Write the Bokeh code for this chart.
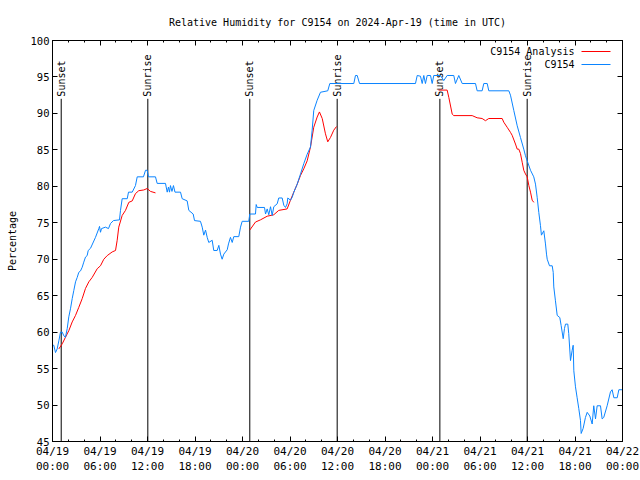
import math
from bokeh.plotting import figure
from bokeh.models import (FixedTicker, LinearAxis, Range1d, Label, BoxAnnotation,
                          ColumnDataSource, CustomLabelingPolicy)
from bokeh.core.properties import value
from bokeh.embed import file_html
from bokeh.resources import INLINE

FONT = "DejaVu Sans Mono"
NAN = float("nan")

# ---- data (hours after 2024-04-19 00:00 UTC) ----
obs_hours = [0.00, 0.16, 0.38, 0.59, 0.80, 1.01, 1.23, 1.43, 1.64, 1.86, 2.06, 2.27, 2.49, 2.69,
             2.91, 3.12, 3.32, 3.54, 3.75, 3.95, 4.17, 4.38, 4.51, 4.80, 5.43, 5.85, 5.94, 6.06,
             6.19, 6.69, 7.07, 7.33, 7.70, 8.46, 8.59, 8.80, 9.44, 9.60, 10.07, 10.48, 10.70,
             11.49, 11.75, 11.96, 12.13, 13.01, 13.22, 14.27, 14.49, 14.65, 14.78, 14.90, 15.09,
             15.28, 15.47, 16.17, 16.38, 17.01, 17.22, 17.77, 17.94, 18.69, 18.91, 19.11, 19.33,
             19.54, 19.74, 20.17, 20.37, 20.80, 21.01, 21.22, 21.43, 21.64, 22.07, 22.23, 22.48,
             22.70, 22.90, 23.53, 23.75, 23.96, 24.79, 24.92, 25.64, 25.73, 25.86, 26.78, 26.91,
             27.12, 27.32, 27.54, 27.75, 27.95, 28.38, 28.58, 29.01, 29.22, 29.43, 29.64, 29.72,
             30.06, 30.28, 30.48, 30.91, 31.33, 31.74, 32.17, 32.59, 32.80, 33.00, 33.43, 33.85,
             34.77, 35.03, 38.06, 38.27, 38.49, 38.78, 45.85, 46.07, 46.48, 46.70, 46.90, 47.11,
             47.33, 47.75, 47.96, 48.16, 49.01, 49.42, 49.85, 50.69, 50.90, 51.32, 51.75, 53.43,
             53.64, 54.27, 54.48, 54.91, 55.11, 57.64, 57.85, 58.27, 58.70, 59.11, 59.53, 59.74,
             59.96, 60.38, 60.79, 61.01, 61.22, 61.43, 61.64, 61.76, 62.06, 62.27, 62.40, 62.49,
             62.78, 63.12, 63.25, 63.32, 63.53, 63.75, 64.08, 64.25, 64.51, 64.67, 64.80, 65.09,
             65.21, 65.43, 65.64, 65.77, 65.85, 66.06, 66.27, 66.48, 66.69, 66.78, 67.03, 67.32,
             67.54, 67.87, 68.17, 68.37, 68.59, 68.80, 69.22, 69.43, 69.63, 70.06, 70.48, 70.69,
             70.91, 71.33, 71.54, 72.00]
obs_rh = [58.2, 58.2, 57.2, 57.7, 58.8, 60.0, 60.0, 59.5, 59.3, 60.5, 62.1, 63.2, 64.6, 65.7,
          66.9, 67.5, 68.2, 68.4, 68.9, 69.6, 70.3, 70.5, 71.2, 71.5, 73.0, 74.2, 74.5, 73.7,
          74.2, 74.4, 74.2, 74.9, 75.3, 75.4, 76.7, 78.3, 78.3, 79.2, 79.2, 80.1, 81.3,
          81.3, 82.2, 82.2, 81.3, 81.3, 80.4, 80.4, 79.2, 79.9, 79.2, 80.1, 79.3,
          80.1, 79.2, 79.2, 78.3, 78.0, 76.7, 76.2, 75.3, 75.2, 74.4, 73.3, 74.0,
          73.0, 72.3, 72.6, 71.2, 71.2, 71.9, 70.7, 70.0, 70.7, 71.3, 72.1, 73.0,
          72.3, 73.1, 73.1, 74.4, 75.2, 75.2, 76.2, 76.2, 77.5, 77.1, 77.1, 76.2,
          76.9, 76.1, 77.2, 76.0, 77.2, 77.6, 78.4, 78.4, 77.4, 77.1, 77.6, 78.4,
          78.1, 78.5, 79.2, 80.3, 81.7, 83.1, 84.4, 85.4, 87.7, 90.4, 91.8, 92.9,
          93.1, 94.1, 94.1, 95.2, 95.2, 94.1, 94.1, 95.2, 95.1, 94.1, 95.2, 94.1,
          95.2, 95.2, 94.1, 95.2, 95.2, 94.5, 95.2, 95.2, 94.1, 95.2, 94.1, 94.1,
          93.1, 93.1, 94.1, 94.1, 93.1, 93.1, 92.5, 90.4, 88.3, 86.7, 85.1, 84.2,
          83.5, 82.2, 81.3, 80.3, 78.5, 76.4, 74.6, 73.3, 73.9, 72.1, 70.7, 70.0,
          69.1, 69.1, 68.2, 66.2, 64.3, 62.3, 62.0, 60.9, 59.1, 60.5, 61.1, 61.1,
          59.8, 56.1, 57.5, 58.2, 54.7, 52.5, 51.0, 49.5, 47.9, 46.1, 46.8, 48.3,
          49.0, 48.5, 47.4, 49.9, 48.1, 49.9, 49.9, 48.1, 48.3, 49.9, 51.8, 52.1,
          51.0, 51.0, 52.1, 52.1]

ana_hours = [0.80, 1.23, 1.64, 2.06, 2.49, 2.91, 3.32, 3.75, 4.17, 4.59, 5.01, 5.65, 6.06, 6.48,
             6.91, 7.54, 7.96, 8.17, 8.37, 8.80, 9.22, 9.64, 10.07, 10.48, 10.90, 11.53, 11.96,
             12.38, 13.01, 18.0,
             24.92, 25.64, 26.27, 27.12, 27.95, 28.58, 29.64, 30.06, 30.48, 30.91, 31.33, 31.74,
             32.17, 32.59, 33.00, 33.43, 33.72, 34.07, 34.48, 34.77, 35.11, 35.53, 35.87, 42.0,
             48.76, 49.85, 50.06, 50.49, 50.69, 53.01, 53.64, 54.27, 54.69, 55.11, 56.80, 57.00,
             57.43, 57.85, 58.06, 58.48, 58.70, 58.90, 59.11, 59.33, 59.53, 59.74, 59.96, 60.17,
             60.38, 60.59, 60.80]
ana_rh = [57.7, 58.4, 59.3, 60.2, 61.4, 62.3, 63.4, 64.6, 66.0, 66.9, 67.5, 68.7, 69.1, 70.0,
          70.5, 71.0, 71.2, 72.6, 74.4, 76.0, 76.7, 77.8, 78.0, 79.0, 79.4, 79.5, 79.7,
          79.3, 79.1, NAN,
          74.0, 75.1, 75.4, 75.9, 76.1, 76.7, 76.9, 78.1, 79.2, 80.3, 81.5, 82.4,
          83.5, 85.4, 88.1, 89.5, 90.2, 89.3, 87.2, 86.1, 86.7, 87.7, 88.2, NAN,
          93.2, 93.2, 92.2, 89.9, 89.7, 89.7, 89.4, 89.3, 89.0, 89.3, 89.3, 88.8,
          88.1, 87.4, 87.0, 85.8, 85.1, 85.1, 84.5, 83.3, 82.2, 81.7, 81.3, 80.1,
          79.2, 78.1, 77.8]

event_hours = [1.10, 12.04, 24.92, 35.96, 48.93, 59.96]
event_names = ["Sunset", "Sunrise", "Sunset", "Sunrise", "Sunset", "Sunrise"]

x_tick_hours = [0, 6, 12, 18, 24, 30, 36, 42, 48, 54, 60, 66, 72]
x_tick_labels = ["04/19\n00:00", "04/19\n06:00", "04/19\n12:00", "04/19\n18:00",
                 "04/20\n00:00", "04/20\n06:00", "04/20\n12:00", "04/20\n18:00",
                 "04/21\n00:00", "04/21\n06:00", "04/21\n12:00", "04/21\n18:00",
                 "04/22\n00:00"]
x_minor_hours = [h for h in range(0, 73, 2)]
y_ticks = [45, 50, 55, 60, 65, 70, 75, 80, 85, 90, 95, 100]

title_text = "Relative Humidity for C9154 on 2024-Apr-19 (time in UTC)"
series_names = ["C9154 Analysis", "C9154"]
series_colors = ["#ff0000", "#0a84ff"]

# ---- figure ----
p = figure(width=640, height=480, output_backend="svg", toolbar_location=None,
           x_range=Range1d(0, 72), y_range=Range1d(45, 100),
           min_border_left=52, min_border_right=18, min_border_top=40, min_border_bottom=39)
p.grid.visible = False
p.outline_line_color = "black"
p.outline_line_alpha = 1.0
p.outline_line_width = 1
p.background_fill_color = "white"
p.border_fill_color = "white"

p.title.text = title_text
p.title.align = "center"
p.title.text_font = FONT
p.title.text_font_size = "10px"
p.title.text_font_style = "normal"
p.title.text_color = "black"
p.title.standoff = 26


def style_axis(ax, ticks, minor, labels=True, size="10px"):
    ax.ticker = FixedTicker(ticks=ticks, minor_ticks=minor)
    ax.major_tick_in = 5
    ax.major_tick_out = 0
    ax.minor_tick_in = 2
    ax.minor_tick_out = 0
    ax.axis_line_color = "black"
    ax.major_tick_line_color = "black"
    ax.minor_tick_line_color = "black"
    ax.major_label_text_font = FONT
    ax.major_label_text_color = "black"
    if labels:
        ax.major_label_text_font_size = size
        ax.major_label_standoff = 3
    else:
        ax.major_label_policy = CustomLabelingPolicy(code="return new Set()")
        ax.major_label_text_font_size = "0px"
        ax.major_label_text_color = None
        ax.major_label_standoff = 0


xa = p.xaxis[0]
style_axis(xa, x_tick_hours, x_minor_hours, True, "11px")
xa.major_label_overrides = {h: lab for h, lab in zip(x_tick_hours, x_tick_labels)}

ya = p.yaxis[0]
style_axis(ya, y_ticks, [], True, "10.5px")
ya.axis_label = "Percentage"
ya.axis_label_text_font = FONT
ya.axis_label_text_font_size = "10px"
ya.axis_label_text_font_style = "normal"
ya.axis_label_text_color = "black"
ya.axis_label_standoff = 10

top = LinearAxis()
style_axis(top, x_tick_hours, x_minor_hours, False)
p.add_layout(top, "above")
right = LinearAxis()
style_axis(right, y_ticks, [], False)
p.add_layout(right, "right")

# sunrise / sunset markers
ev = ColumnDataSource(dict(x=event_hours, t=event_names))
p.segment(x0="x", y0=45, x1="x", y1=92.0, source=ev, line_color="black", line_width=1)
p.text(x="x", y=92.3, text="t", source=ev, angle=math.pi / 2,
       text_align="left", text_baseline="middle", text_font=value(FONT),
       text_font_size="10px", text_color="black")

# series
p.line(ana_hours, ana_rh, line_color=series_colors[0], line_width=1)
p.line(obs_hours, obs_rh, line_color=series_colors[1], line_width=1)

# gnuplot-style legend (label then sample), top right inside frame
for i, (name, col) in enumerate(zip(series_names, series_colors)):
    yy = 390 - 13 * i
    p.add_layout(Label(x=522, y=yy, x_units="screen", y_units="screen", text=name,
                       text_align="right", text_baseline="middle", text_font=FONT,
                       text_font_size="10px", text_color="black"))
    p.add_layout(BoxAnnotation(left=529, right=558, bottom=yy - 0.5, top=yy + 0.5,
                               left_units="screen", right_units="screen",
                               bottom_units="screen", top_units="screen",
                               fill_color=col, fill_alpha=1.0, line_alpha=0))

open("out.html", "w").write(file_html(p, INLINE))
